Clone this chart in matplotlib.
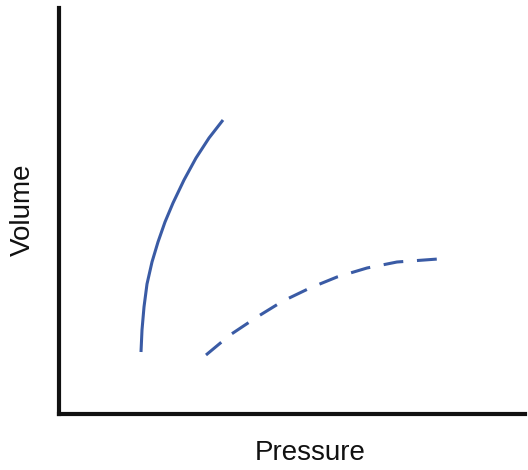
import matplotlib
matplotlib.use("Agg")
import matplotlib.pyplot as plt

# Data (arbitrary units)
solid_x = [82, 83, 85, 88, 93, 99, 106, 114, 125, 137, 150, 164]
solid_y = [62, 84, 107, 130, 152, 172, 192, 211, 234, 256, 276, 294]
dashed_x = [147, 171, 198, 224, 251, 278, 308, 338, 379]
dashed_y = [59, 79, 97, 113, 126, 137, 146, 152, 155]
x_label = "Pressure"
y_label = "Volume"

fig = plt.figure(figsize=(5.28, 4.70), dpi=100)
ax = fig.add_axes([59/528, 56/470, 466/528, 406/470])
color = "#3A5BA5"
ax.plot(solid_x, solid_y, color=color, lw=2.2, solid_capstyle="butt",
        solid_joinstyle="round")
ax.plot(dashed_x, dashed_y, color=color, lw=2.2, dashes=(6.5, 4.5),
        dash_capstyle="butt", dash_joinstyle="round")
ax.set_xlim(0, 466)
ax.set_ylim(0, 406)
for s in ["top", "right"]:
    ax.spines[s].set_visible(False)
for s in ["left", "bottom"]:
    ax.spines[s].set_linewidth(3)
    ax.spines[s].set_color("#111111")
ax.set_xticks([])
ax.set_yticks([])
fig.text(310/528, 1 - 453/470, x_label, ha="center", va="center",
         fontsize=20, family="Liberation Sans", color="#111111")
fig.text(23/528, 1 - 210/470, y_label, ha="center", va="center", rotation=90,
         fontsize=20, family="Liberation Sans", color="#111111")
fig.savefig("out.png", dpi=100)
